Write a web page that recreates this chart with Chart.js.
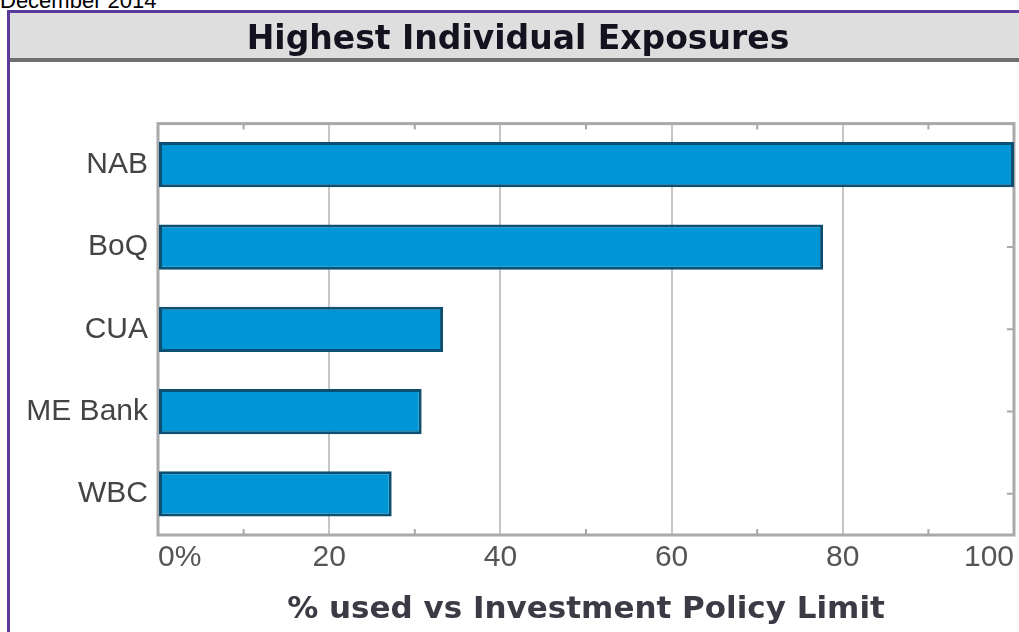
<!DOCTYPE html>
<html>
<head>
<meta charset="utf-8">
<script src="https://cdn.jsdelivr.net/npm/chart.js@4.4.1/dist/chart.umd.min.js"></script>
<style>
  html, body { margin:0; padding:0; background:#fff; }
  body { width:1019px; height:632px; position:relative; overflow:hidden; }
  #date { position:absolute; left:0; top:-10px; font:22px 'Liberation Sans', Arial, sans-serif; line-height:22px; color:#000; white-space:nowrap; }
  #frame { position:absolute; left:7px; top:10px; width:1100px; height:700px; border-left:3px solid #5b3a9c; border-top:3px solid #5b3a9c; box-sizing:border-box; }
  #band { position:absolute; left:10px; top:13px; width:1100px; height:45px; background:#dedede; border-bottom:4px solid #707070; }
  #c { position:absolute; left:0; top:0; }
</style>
</head>
<body>
<div id="date">December 2014</div>
<div id="frame"></div>
<div id="band"></div>
<canvas id="c" width="1019" height="632"></canvas>
<script>
const categories = ['NAB', 'BoQ', 'CUA', 'ME Bank', 'WBC'];
const exposure = [100, 77.7, 33.3, 30.8, 27.3];
const xMajorTicks = [0, 20, 40, 60, 80, 100];
const xMinorTicks = [10, 30, 50, 70, 90];
const chartTitle = 'Highest Individual Exposures';
const xAxisTitle = '% used vs Investment Policy Limit';

const framePlugin = {
  id: 'framePlugin',
  beforeDatasetsDraw(chart) {
    const { ctx, chartArea: a, scales } = chart;
    ctx.save();
    ctx.strokeStyle = '#a9a9a9';
    ctx.lineWidth = 3;
    ctx.strokeRect(a.left, a.top, a.right - a.left, a.bottom - a.top);
    ctx.lineWidth = 2;
    xMinorTicks.forEach(v => {
      const x = scales.x.getPixelForValue(v);
      ctx.beginPath();
      ctx.moveTo(x, a.top); ctx.lineTo(x, a.top + 6);
      ctx.moveTo(x, a.bottom); ctx.lineTo(x, a.bottom - 6);
      ctx.stroke();
    });
    categories.forEach((c, i) => {
      const y = scales.y.getPixelForValue(i);
      ctx.beginPath();
      ctx.moveTo(a.right, y); ctx.lineTo(a.right - 7, y);
      ctx.moveTo(a.left, y); ctx.lineTo(a.left + 7, y);
      ctx.stroke();
    });
    ctx.restore();
  }
};

new Chart(document.getElementById('c'), {
  type: 'bar',
  data: {
    labels: categories,
    datasets: [{
      data: exposure,
      backgroundColor: '#0096d6',
      borderColor: '#0b4f72',
      borderWidth: 3,
      borderSkipped: false,
      barPercentage: 0.55,
      categoryPercentage: 1
    }]
  },
  options: {
    indexAxis: 'y',
    responsive: false,
    animation: false,
    devicePixelRatio: 1,
    layout: { padding: { left: 22, right: 5, top: 0, bottom: 0 } },
    plugins: {
      legend: { display: false },
      tooltip: { enabled: false },
      title: {
        display: true,
        text: chartTitle,
        color: '#15121f',
        font: { family: 'DejaVu Sans', size: 33, weight: 'bold' },
        padding: { top: 21, bottom: 63 }
      }
    },
    scales: {
      x: {
        type: 'linear',
        min: 0,
        max: 100,
        afterBuildTicks(s) { s.ticks = xMajorTicks.map(v => ({ value: v })); },
        afterFit(s) { s.height = 97; },
        ticks: {
          align: 'inner',
          padding: 5,
          color: '#555555',
          font: { family: 'Liberation Sans', size: 30 },
          callback: v => (v === 0 ? '0%' : String(v))
        },
        grid: {
          drawTicks: false,
          lineWidth: 2,
          color: c => (c.tick && (c.tick.value === 0 || c.tick.value === 100)) ? 'rgba(0,0,0,0)' : '#c6c6c6'
        },
        border: { display: false },
        title: {
          display: true,
          text: xAxisTitle,
          color: '#3b3b45',
          font: { family: 'DejaVu Sans', size: 31, weight: 'bold' },
          padding: { top: 0, bottom: 3 }
        }
      },
      y: {
        type: 'category',
        afterFit(s) { s.width = 136; },
        ticks: {
          padding: 10,
          color: '#444444',
          font: { family: 'Liberation Sans', size: 30 }
        },
        grid: { display: false, drawTicks: false },
        border: { display: false }
      }
    }
  },
  plugins: [framePlugin]
});
</script>
</body>
</html>
